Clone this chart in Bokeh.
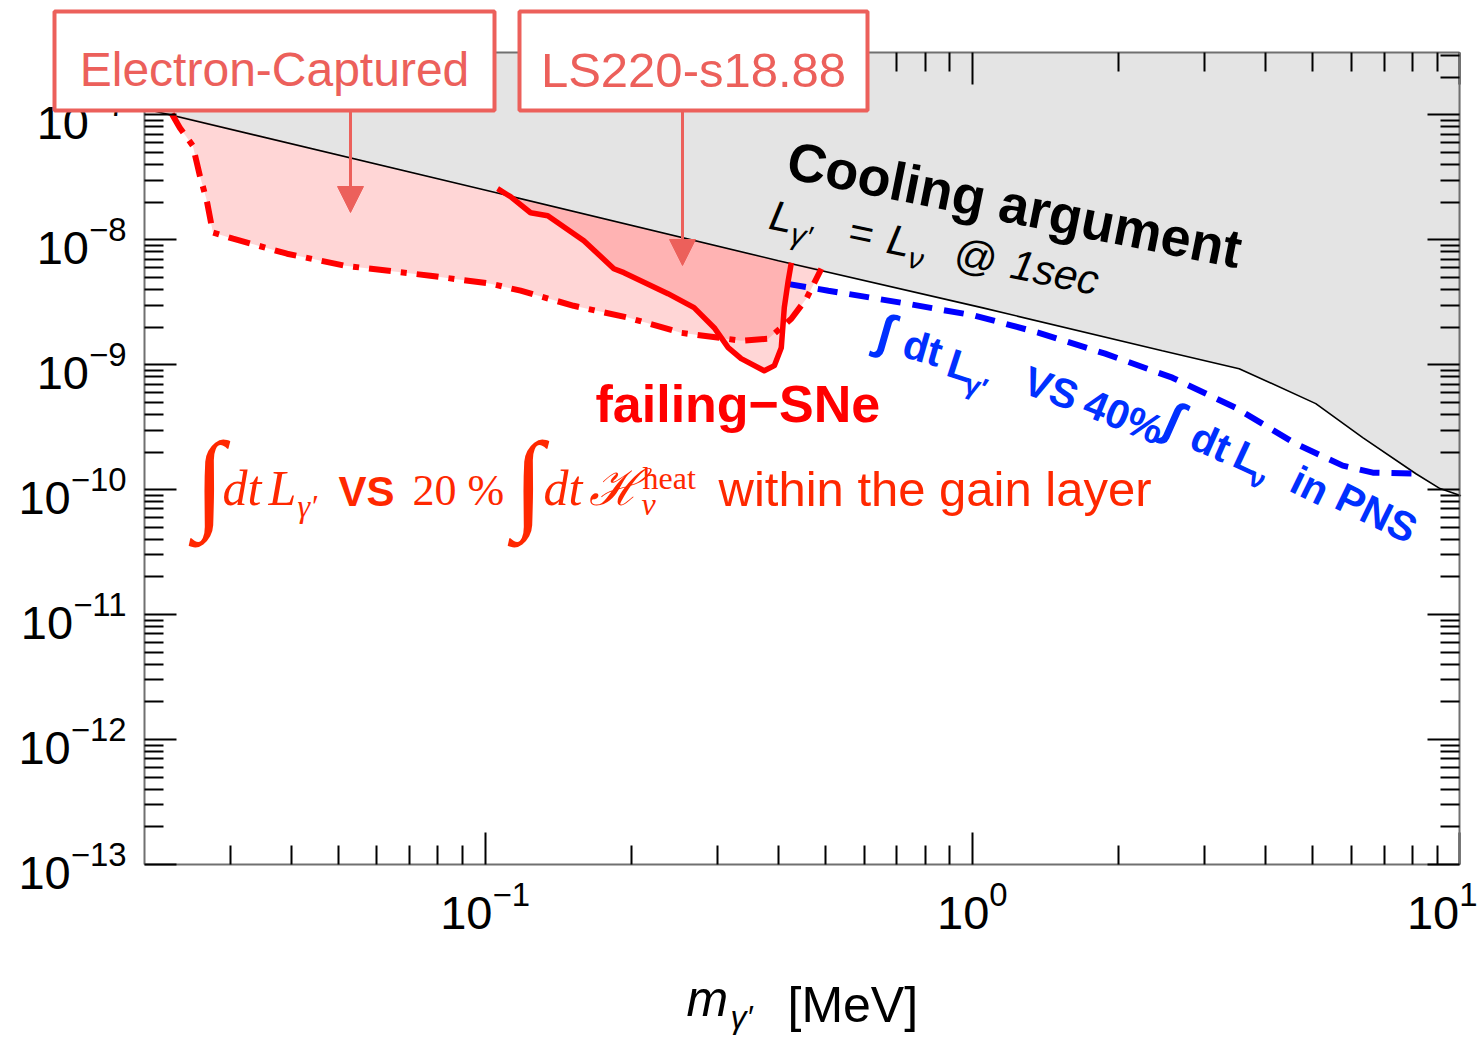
import math
from bokeh.plotting import figure
from bokeh.models import (LogAxis, FixedTicker, LogTickFormatter, Label,
                          BoxAnnotation, Arrow, NormalHead)
from bokeh.embed import file_html
from bokeh.resources import INLINE

# ---------------- data ----------------
# Cooling argument boundary  L_gamma' = L_nu @ 1 sec (grey above)
cool_x = [0.0200, 0.1076, 0.400, 1.046, 2.455, 3.53, 5.07, 6.33, 8.14, 9.12, 10.07]
cool_y = [1.117e-7, 2.33e-8, 6.79e-9, 2.86e-9, 1.294e-9, 9.29e-10, 4.88e-10,
          2.61e-10, 1.34e-10, 1.02e-10, 8.95e-11]

# Electron-Captured (dash-dot)
ec_x = [0.02275, 0.02363, 0.02513, 0.02598, 0.02685, 0.02763, 0.03039, 0.03923,
        0.05164, 0.0772, 0.1026, 0.1183, 0.152, 0.1964, 0.2525, 0.3355, 0.3814,
        0.4252, 0.4565, 0.490]
ec_y = [1.019e-7, 7.87e-8, 5.65e-8, 3.25e-8, 2.05e-8, 1.14e-8, 1.02e-8, 7.73e-9,
        6.19e-9, 5.15e-9, 4.45e-9, 3.91e-9, 2.96e-9, 2.38e-9, 1.80e-9, 1.556e-9,
        1.614e-9, 2.33e-9, 3.37e-9, 5.86e-9]

# LS220-s18.88 (solid)
ls_x = [0.1061, 0.1128, 0.1240, 0.1345, 0.1595, 0.1838, 0.1928, 0.2374, 0.2685,
        0.2953, 0.3155, 0.3355, 0.3741, 0.3924, 0.4055, 0.4113, 0.419, 0.4252]
ls_y = [2.56e-8, 2.21e-8, 1.644e-8, 1.556e-8, 9.82e-9, 5.86e-9, 5.45e-9, 3.70e-9,
        2.86e-9, 1.977e-9, 1.368e-9, 1.117e-9, 8.95e-10, 9.82e-10, 1.368e-9,
        2.86e-9, 4.70e-9, 6.55e-9]

# 40% of PNS luminosity (blue dashed)
pns_x = [0.415, 0.5066, 0.716, 1.012, 1.370, 1.874, 2.574, 3.468, 4.61, 5.76, 6.64, 8.14]
pns_y = [4.45e-9, 3.91e-9, 3.13e-9, 2.47e-9, 1.80e-9, 1.225e-9, 7.87e-10, 4.53e-10,
         2.33e-10, 1.556e-10, 1.368e-10, 1.343e-10]

x_major = [1e-1, 1e0, 1e1]
y_major = [1e-13, 1e-12, 1e-11, 1e-10, 1e-9, 1e-8, 1e-7]

# ---------------- geometry ----------------
W, H = 1477, 1039
DATA_X = (0.02, 10.0)          # axis span
DATA_Y = (1e-13, 3.15e-7)
BOX_L, BOX_R, BOX_T, BOX_B = 144, 1459, 52, 864   # where the axes sit on the page

dec_x = (BOX_R - BOX_L) / math.log10(DATA_X[1] / DATA_X[0])
dec_y = (BOX_B - BOX_T) / math.log10(DATA_Y[1] / DATA_Y[0])
X_RANGE = (10 ** (math.log10(DATA_X[0]) - BOX_L / dec_x),
           10 ** (math.log10(DATA_X[1]) + (W - BOX_R) / dec_x))
Y_RANGE = (10 ** (math.log10(DATA_Y[0]) - (H - BOX_B) / dec_y),
           10 ** (math.log10(DATA_Y[1]) + BOX_T / dec_y))

p = figure(width=W, height=H, x_axis_type="log", y_axis_type="log",
           x_range=X_RANGE, y_range=Y_RANGE, output_backend="svg",
           toolbar_location=None, min_border=0, min_border_left=0,
           min_border_right=0, min_border_top=0, min_border_bottom=0)
p.outline_line_color = None
p.xgrid.visible = False
p.ygrid.visible = False
p.background_fill_color = "white"
p.border_fill_color = "white"

x_minor = [m * 10.0 ** e for e in (-2, -1, 0) for m in range(2, 10)]
y_minor = [m * 10.0 ** e for e in range(-13, -6) for m in range(2, 10)]
x_minor = [v for v in x_minor if DATA_X[0] < v < DATA_X[1]]
y_minor = [v for v in y_minor if DATA_Y[0] < v < DATA_Y[1]]
x_ticker = FixedTicker(ticks=x_major, minor_ticks=x_minor)
y_ticker = FixedTicker(ticks=y_major, minor_ticks=y_minor)

TICK_FONT = "Liberation Sans"


def style_axis(ax, ticker, labels, loc, bounds):
    ax.ticker = ticker
    ax.fixed_location = loc
    ax.bounds = bounds
    ax.axis_line_color = "#707070"
    ax.axis_line_width = 2
    ax.major_tick_in = 32
    ax.major_tick_out = 0
    ax.minor_tick_in = 19
    ax.minor_tick_out = 0
    ax.major_tick_line_color = "black"
    ax.minor_tick_line_color = "black"
    ax.major_tick_line_width = 2
    ax.minor_tick_line_width = 2
    if labels:
        ax.formatter = LogTickFormatter()
        ax.major_label_text_font = TICK_FONT
        ax.major_label_text_font_size = "47px"
        ax.major_label_text_color = "black"
    else:
        ax.major_label_text_alpha = 0
        ax.major_label_text_font_size = "1px"
        ax.major_label_standoff = 0


style_axis(p.xaxis[0], x_ticker, True, DATA_Y[0], DATA_X)
style_axis(p.yaxis[0], y_ticker, True, DATA_X[0], DATA_Y)
p.xaxis[0].major_label_standoff = 16
p.yaxis[0].major_label_standoff = 18

top_ax = LogAxis()
p.add_layout(top_ax, "above")
style_axis(top_ax, x_ticker, False, DATA_Y[1], DATA_X)
right_ax = LogAxis()
p.add_layout(right_ax, "right")
style_axis(right_ax, y_ticker, False, DATA_X[1], DATA_Y)

# ---------------- regions and curves ----------------
RED = "#FF0000"
p.varea(x=cool_x, y1=cool_y, y2=DATA_Y[1], fill_color="#E4E4E4")

ec_close = [(x, y) for x, y in zip(cool_x, cool_y) if ec_x[0] < x < ec_x[-1]][::-1]
p.patch(x=ec_x + [c[0] for c in ec_close], y=ec_y + [c[1] for c in ec_close],
        fill_color=RED, fill_alpha=0.16, line_color=None)
ls_close = [(x, y) for x, y in zip(cool_x, cool_y) if ls_x[0] < x < ls_x[-1]][::-1]
p.patch(x=ls_x + [c[0] for c in ls_close], y=ls_y + [c[1] for c in ls_close],
        fill_color=RED, fill_alpha=0.16, line_color=None)

p.line(cool_x, cool_y, line_color="black", line_width=1.6)
p.line(pns_x, pns_y, line_color="#0000FF", line_width=6, line_dash="20 12")
p.line(ec_x, ec_y, line_color=RED, line_width=6, line_dash="22 10 6 10")
p.line(ls_x, ls_y, line_color=RED, line_width=5.5, line_join="round")


# ---------------- texts ----------------
MID = 0.345   # distance baseline -> middle of the text box, in em


def text(cx, cy, s, size, color="black", font="Liberation Sans", style="normal",
         angle=0.0, align="left"):
    """(cx, cy): baseline anchor in page pixels; angle: clockwise degrees"""
    a = math.radians(angle)
    off = MID * size
    mx = cx + off * math.sin(a)
    my = cy - off * math.cos(a)
    p.add_layout(Label(x=mx, y=H - my, x_units="screen", y_units="screen", text=s,
                       text_font=font, text_font_size=f"{size}px",
                       text_font_style=style, text_color=color, angle=-angle,
                       angle_units="deg", text_align=align,
                       text_baseline="middle"))


def rot_text(x0, y0, a, pieces, color, font, style):
    ca, sa = math.cos(math.radians(a)), math.sin(math.radians(a))
    for s, d, t, size in pieces:
        cx = x0 + s * ca - d * sa
        cy = y0 + s * sa + d * ca
        text(cx, cy, t, size, color, font, style, angle=a)


SANS = "Liberation Sans"

# Cooling argument
rot_text(784, 177, 11.3, [(0, 0, "Cooling argument", 54)], "black", SANS, "bold")
rot_text(767, 228, 11.5, [(0, 0, "L", 42), (24, 10, "γ′", 30), (80, 0, "=", 42),
                          (120, 0, "L", 42), (144, 10, "ν", 30),
                          (188, 0, "@", 42), (246, 0, "1sec", 42)],
         "black", SANS, "italic")

# failing-SNe
text(595, 421, "failing−SNe", 52, RED, SANS, "bold")

# red formula
OR = "#FF2800"
SERIF = "Liberation Serif"
text(194, 518, "∫", 110, OR, SERIF, "normal")
text(222, 505, "dt", 50, OR, SERIF, "italic")
text(268, 505, "L", 50, OR, SERIF, "italic")
text(297, 517, "γ′", 32, OR, SERIF, "italic")
text(338, 505, "VS", 42, OR, SANS, "bold")
text(412, 505, "20 %", 44, OR, SERIF, "normal")
text(513, 518, "∫", 110, OR, SERIF, "normal")
text(543, 505, "dt", 50, OR, SERIF, "italic")
text(588, 505, "ℋ", 50, OR, SERIF, "italic")
text(642, 489, "heat", 32, OR, SERIF, "normal")
text(641, 515, "ν", 32, OR, SERIF, "italic")
text(718, 505, "within the gain layer", 49, OR, SANS, "normal")

# blue rotated text
BL = "#0030FF"
rot_text(874, 346, 16, [(0, 0, "∫", 50)], BL, SANS, "bold")
rot_text(900, 356, 16, [(0, 0, "dt", 41)], BL, SANS, "bold")
rot_text(944, 375, 18, [(0, 0, "L", 41), (22, 10, "γ′", 28)], BL, SANS, "bold")
rot_text(1020, 392, 20, [(0, 0, "VS", 41)], BL, SANS, "bold")
rot_text(1080, 414, 22, [(0, 0, "40%", 41)], BL, SANS, "bold")
rot_text(1160, 432, 24, [(0, 0, "∫", 50)], BL, SANS, "bold")
rot_text(1187, 447, 24, [(0, 0, "dt", 41)], BL, SANS, "bold")
rot_text(1230, 465, 25, [(0, 0, "L", 41), (22, 10, "ν", 28)], BL, SANS, "bold")
rot_text(1287, 490, 26, [(0, 0, "in", 41)], BL, SANS, "bold")
rot_text(1332, 507, 26, [(0, 0, "PNS", 41)], BL, SANS, "bold")

# axis title  m_gamma' [MeV]
text(686, 1016, "m", 50, "black", SANS, "italic")
text(730, 1028, "γ′", 32, "black", SANS, "italic")
text(787, 1022, "[MeV]", 50, "black", SANS, "normal")

# ---------------- boxed labels with arrows ----------------
SALMON = "#EC605B"


def boxed(x0, y0, x1, y1, s, size):
    l, t = x0, H - y0
    r, b = x1, H - y1
    p.add_layout(BoxAnnotation(left=l, right=r, top=t, bottom=b,
                               left_units="screen", right_units="screen",
                               top_units="screen", bottom_units="screen",
                               fill_color="white", fill_alpha=1.0,
                               line_color=SALMON, line_width=4, line_alpha=1.0))
    text((x0 + x1) / 2, 86, s, size, SALMON, SANS, "normal", align="center")


def arrow(cx, cy0, cy1):
    p.add_layout(Arrow(x_start=cx, y_start=H - cy0, x_end=cx, y_end=H - cy1,
                       start_units="screen", end_units="screen",
                       line_color=SALMON, line_width=3,
                       end=NormalHead(size=26, fill_color=SALMON,
                                      line_color=SALMON, line_width=1)))


arrow(350, 110, 212)
arrow(682, 110, 265)
boxed(54, 11, 494, 110, "Electron-Captured", 48)
boxed(519, 11, 867, 110, "LS220-s18.88", 49)

open("out.html", "w").write(file_html(p, INLINE))
